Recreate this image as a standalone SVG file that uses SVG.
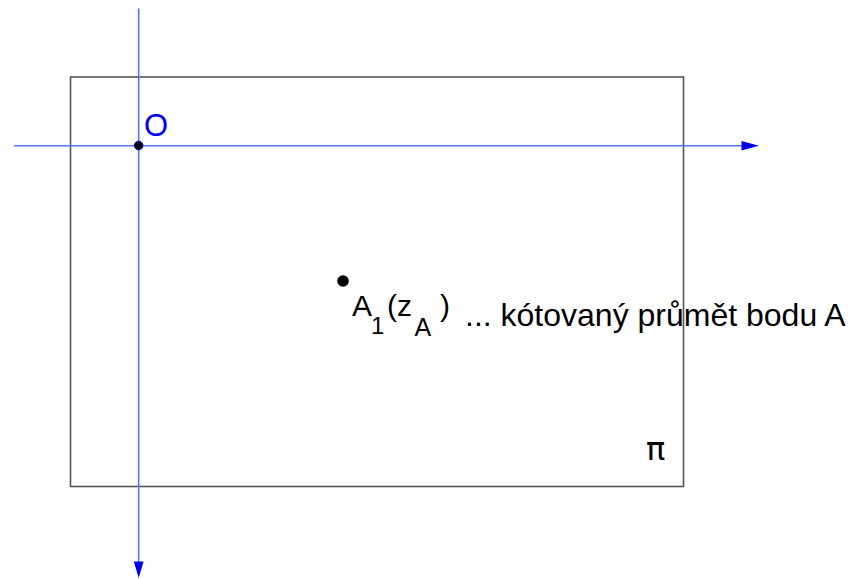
<svg xmlns="http://www.w3.org/2000/svg" width="860" height="579" viewBox="0 0 860 579">
<style>
.axis{stroke:#5577ee;stroke-width:1.6;fill:none}
.frame{stroke:#555;stroke-width:1.6;fill:none}
.head{fill:#0000ee}
.t{font-family:"Liberation Sans",Arial,sans-serif;fill:#000}
</style>
<rect width="860" height="579" fill="#fff"/>
<g id="plane">
<rect class="frame" x="70.5" y="77" width="613" height="409.5"/>
<text x="646" y="460" font-size="32" font-family="'DejaVu Sans',sans-serif" fill="#000">π</text>
</g>
<g id="connectors">
<line class="axis" x1="14" y1="145.7" x2="744" y2="145.7"/>
<polygon class="head" points="759,145.7 741.5,141 741.5,150.4"/>
<line class="axis" x1="138.7" y1="8.5" x2="138.7" y2="564"/>
<polygon class="head" points="138.7,578 133.8,561.5 143.6,561.5"/>
</g>
<g id="O">
<circle cx="138.7" cy="145.5" r="4.3" fill="#000" stroke="#0000ee" stroke-width="1"/>
<text class="t" x="144" y="136" font-size="31" style="fill:#0000ee">O</text>
</g>
<g id="A1">
<circle cx="343" cy="281" r="5.8" fill="#000"/>
<text class="t" font-size="30"><tspan x="352" y="315.5">A</tspan><tspan x="371" y="333.5" font-size="24">1</tspan><tspan x="387" y="315.5">(z</tspan><tspan x="414.5" y="335.5" font-size="25">A</tspan><tspan x="440" y="315.5">)</tspan></text>
<text class="t" x="465" y="326" font-size="32">... kótovaný průmět bodu A</text>
</g>
</svg>
